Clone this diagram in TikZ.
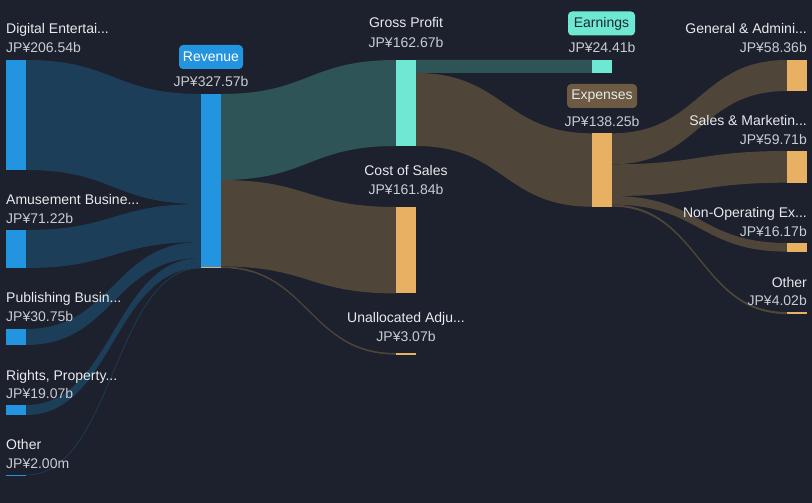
\documentclass[tikz,border=0pt]{standalone}
\usepackage{fontspec}
\setmainfont{Liberation Sans}
\definecolor{bg}{RGB}{28,33,45}
\definecolor{bluebar}{RGB}{35,148,223}
\definecolor{blueflow}{RGB}{29,62,88}
\definecolor{tealbar}{RGB}{111,232,211}
\definecolor{tealflow}{RGB}{46,84,88}
\definecolor{orangebar}{RGB}{231,176,98}
\definecolor{brownflow}{RGB}{79,70,57}
\definecolor{brownbadge}{RGB}{108,90,66}
\definecolor{labeltxt}{RGB}{232,234,237}
\definecolor{valuetxt}{RGB}{200,204,210}
\definecolor{darktxt}{RGB}{28,40,46}
\newcommand\sflow[7]{%
  \fill[#7] (#1,#2) .. controls ({(#1+#4)/2},#2) and ({(#1+#4)/2},#5) .. (#4,#5)
    -- (#4,#6) .. controls ({(#1+#4)/2},#6) and ({(#1+#4)/2},#3) .. (#1,#3) -- cycle;}
\tikzset{
  lbl/.style={text=labeltxt, font=\fontsize{14}{16}\selectfont, inner sep=0pt},
  val/.style={text=valuetxt, font=\fontsize{14}{16}\selectfont, inner sep=0pt},
  badge/.style={rounded corners=4pt, inner sep=0pt, font=\fontsize{14}{16}\selectfont, anchor=center},
}
\begin{document}
\begin{tikzpicture}[x=1pt,y=-1pt]
\fill[bg] (0,0) rectangle (812,503);
\useasboundingbox (0,0) rectangle (812,503);
% ---- flows: sources -> revenue
\sflow{26}{60}{170}{201}{94}{204}{blueflow}
\sflow{26}{230}{268}{201}{204}{242}{blueflow}
\sflow{26}{329}{345}{201}{242}{258}{blueflow}
\sflow{26}{405}{415}{201}{258}{268}{blueflow}
\draw[blueflow, line width=0.7pt] (26,475) .. controls (113.5,475) and (113.5,268) .. (201,268);
% ---- revenue -> gross profit / cost of sales / unallocated
\sflow{221}{94}{180}{396}{60}{146}{tealflow}
\sflow{221}{180}{266.4}{396}{207}{293.4}{brownflow}
\sflow{221}{266.4}{268}{396}{353}{354.6}{brownflow}
% ---- gross profit -> earnings / expenses
\sflow{416}{60}{73}{592}{60}{73}{tealflow}
\sflow{416}{73}{146}{592}{133.3}{206.7}{brownflow}
% ---- expenses -> breakdown
\sflow{612}{133.3}{164.3}{787}{60}{91}{brownflow}
\sflow{612}{164.3}{196}{787}{151}{182.7}{brownflow}
\sflow{612}{196}{204.6}{787}{243}{251.6}{brownflow}
\sflow{612}{204.6}{206.7}{787}{312}{314.1}{brownflow}
% ---- bars
\fill[bluebar] (6,60) rectangle (26,170);
\fill[bluebar] (6,230) rectangle (26,268);
\fill[bluebar] (6,329) rectangle (26,345);
\fill[bluebar] (6,405) rectangle (26,415);
\fill[bluebar] (6,474.6) rectangle (26,475.6);
\fill[bluebar] (201,94) rectangle (221,268);
\fill[orangebar] (201,266.6) rectangle (221,268);
\fill[tealbar] (396,60) rectangle (416,146);
\fill[orangebar] (396,207) rectangle (416,293.4);
\fill[orangebar] (396,353) rectangle (416,354.8);
\fill[tealbar] (592,60) rectangle (612,73);
\fill[orangebar] (592,133.3) rectangle (612,206.7);
\fill[orangebar] (787,60) rectangle (807,91);
\fill[orangebar] (787,151) rectangle (807,182.7);
\fill[orangebar] (787,243) rectangle (807,251.6);
\fill[orangebar] (787,312) rectangle (807,314.1);
% ---- left labels
\node[lbl, anchor=base west] (l1) at (6,34) {Digital Entertai...};
\node[val, anchor=base west] (v1) at (6,53) {JP¥206.54b};
\node[lbl, anchor=base west] (l2) at (6,204) {Amusement Busine...};
\node[val, anchor=base west] (v2) at (6,223) {JP¥71.22b};
\node[lbl, anchor=base west] (l3) at (6,302) {Publishing Busin...};
\node[val, anchor=base west] (v3) at (6,321) {JP¥30.75b};
\node[lbl, anchor=base west] (l4) at (6,380) {Rights, Property...};
\node[val, anchor=base west] (v4) at (6,398) {JP¥19.07b};
\node[lbl, anchor=base west] (l5) at (6,449) {Other};
\node[val, anchor=base west] (v5) at (6,468) {JP¥2.00m};
% ---- revenue
\node[badge, fill=bluebar, text=white, minimum width=64pt, minimum height=24pt] (rev) at (211,57) {Revenue};
\node[val, anchor=base] (vrev) at (211,87) {JP¥327.57b};
% ---- middle
\node[lbl, anchor=base] (lgp) at (406,28) {Gross Profit};
\node[val, anchor=base] (vgp) at (406,48) {JP¥162.67b};
\node[lbl, anchor=base] (lcs) at (406,175) {Cost of Sales};
\node[val, anchor=base] (vcs) at (406,194) {JP¥161.84b};
\node[lbl, anchor=base] (lua) at (406,322) {Unallocated Adju...};
\node[val, anchor=base] (vua) at (406,341) {JP¥3.07b};
% ---- earnings / expenses
\node[badge, fill=tealbar, text=darktxt, minimum width=67pt, minimum height=24pt] (earn) at (601.5,23.5) {Earnings};
\node[val, anchor=base] (vearn) at (602,53) {JP¥24.41b};
\node[badge, fill=brownbadge, text=labeltxt, minimum width=70pt, minimum height=24pt] (exp) at (602,96) {Expenses};
\node[val, anchor=base] (vexp) at (602,126) {JP¥138.25b};
% ---- right labels
\node[lbl, anchor=base east] (r1) at (807,34) {General \& Admini...};
\node[val, anchor=base east] (rv1) at (807,53) {JP¥58.36b};
\node[lbl, anchor=base east] (r2) at (807,125) {Sales \& Marketin...};
\node[val, anchor=base east] (rv2) at (807,144) {JP¥59.71b};
\node[lbl, anchor=base east] (r3) at (807,217) {Non-Operating Ex...};
\node[val, anchor=base east] (rv3) at (807,236) {JP¥16.17b};
\node[lbl, anchor=base east] (r4) at (807,287) {Other};
\node[val, anchor=base east] (rv4) at (807,305) {JP¥4.02b};
\end{tikzpicture}
\end{document}
